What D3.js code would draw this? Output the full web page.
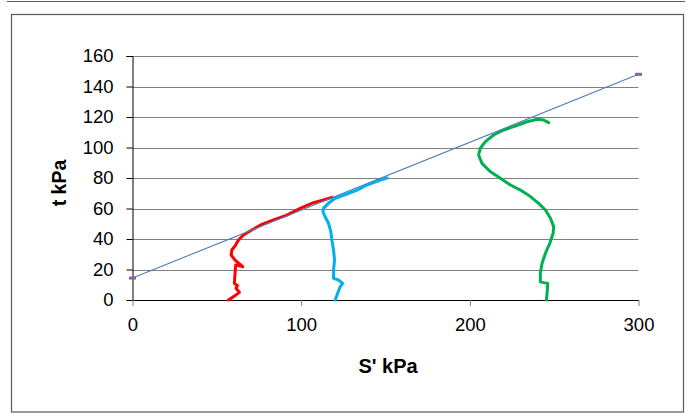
<!DOCTYPE html>
<html>
<head>
<meta charset="utf-8">
<script src="https://cdn.jsdelivr.net/npm/d3@7"></script>
<style>
  html, body { margin: 0; padding: 0; background: #fff; }
  svg { display: block; font-family: "Liberation Sans", Arial, sans-serif; }
</style>
</head>
<body>
<svg id="chart" width="691" height="416"></svg>
<script>
// ---- data ----
const xTicks = [0, 100, 200, 300];
const yTicks = [0, 20, 40, 60, 80, 100, 120, 140, 160];
const xTitle = "S' kPa";
const yTitle = "t kPa";

// failure envelope (straight line) endpoints [s', t]
const envelopeS = [0, 300];
const envelopeT = [14.4, 148];

// red test path
const redS = [56.9, 59.8, 63.4, 61.4, 62.2, 60.4, 60.8, 61.2, 65.4, 60.8, 58.5, 58.9, 60.8, 62.8, 65.8, 70.7, 76.7, 83.6, 91.5, 99.4, 107.3, 113.2, 118.2];
const redT = [0, 2.2, 5, 7.7, 9.5, 10.9, 17.5, 23, 21.9, 26.2, 29.5, 32.8, 35.4, 39.3, 42.6, 45.9, 49.6, 52.5, 55.7, 60.1, 63.8, 65.6, 67.3];

// blue test path
const blueS = [120.2, 121.6, 123.1, 124.7, 122.1, 119.2, 119.2, 119.8, 119.2, 118.2, 117.6, 116.2, 114.2, 112.9, 113.2, 116.2, 120.2, 127.1, 133.1, 139.0, 146.9, 151.0];
const blueT = [0, 4.4, 8.7, 10.9, 13.1, 14.2, 19.7, 26.2, 32.8, 39.3, 44.8, 50.3, 54.6, 57.9, 60.1, 63.4, 66.7, 69.5, 72.1, 75.4, 78.7, 80.0];

// green test path
const greenS = [245.4, 245.8, 246.2, 243.8, 241.8, 241.8, 242.8, 244.8, 247.4, 249.4, 249.7, 247.8, 244.8, 240.8, 235.9, 230.0, 224.1, 218.1, 212.2, 207.2, 205.2, 206.2, 209.2, 214.1, 220.1, 227.0, 233.9, 239.9, 243.8, 246.8];
const greenT = [0, 4.4, 10.9, 11.4, 12, 17.5, 24, 30.6, 37.2, 43.7, 48.1, 53.6, 59, 63.4, 67.8, 72.1, 75.4, 79.8, 84.1, 89.6, 95.1, 99.5, 103.8, 108.2, 111.5, 114.1, 116.9, 118.5, 118, 116.3];

const series = [
  { s: redS, t: redT, color: "#ff0000" },
  { s: blueS, t: blueT, color: "#00b0f0" },
  { s: greenS, t: greenT, color: "#00b050" }
];

// ---- layout ----
const svg = d3.select("#chart");
const x = d3.scaleLinear().domain([0, 300]).range([132.5, 638.5]);
const y = d3.scaleLinear().domain([0, 160]).range([300, 56]);

// outer frames
svg.append("line").attr("x1", 7).attr("x2", 685).attr("y1", 1.5).attr("y2", 1.5)
  .attr("stroke", "#5a5a5a").attr("stroke-width", 1.2);
svg.append("rect").attr("x", 11.5).attr("y", 14.5).attr("width", 672).attr("height", 397.5)
  .attr("fill", "none").attr("stroke", "#5a5a5a").attr("stroke-width", 1.2);

// gridlines
svg.append("g").selectAll("line").data(yTicks.filter(d => d > 0)).join("line")
  .attr("x1", x(0)).attr("x2", x(300))
  .attr("y1", d => Math.round(y(d)) + 0.5).attr("y2", d => Math.round(y(d)) + 0.5)
  .attr("stroke", "#808080").attr("stroke-width", 1);

// y axis
const yAxis = svg.append("g").attr("transform", `translate(${x(0)},0)`)
  .call(d3.axisLeft(y).tickValues(yTicks).tickSize(6).tickPadding(13));
yAxis.select(".domain").attr("stroke", "#000");
yAxis.selectAll(".tick line").attr("stroke", "#000");
yAxis.selectAll(".tick text").attr("font-size", 18.5).attr("fill", "#000")
  .attr("font-family", "Liberation Sans, Arial, sans-serif");

// x axis
const xAxis = svg.append("g").attr("transform", `translate(0,${y(0)})`)
  .call(d3.axisBottom(x).tickValues(xTicks).tickSize(6).tickPadding(12).tickSizeOuter(0));
xAxis.select(".domain").attr("stroke", "#000");
xAxis.selectAll(".tick line").attr("stroke", "#808080");
xAxis.selectAll(".tick text").attr("font-size", 18.5).attr("fill", "#000")
  .attr("font-family", "Liberation Sans, Arial, sans-serif");

// axis titles
svg.append("text").attr("x", 388).attr("y", 373).attr("text-anchor", "middle")
  .attr("font-size", 20).attr("font-weight", "bold").text(xTitle);
svg.append("text").attr("transform", "translate(66,183) rotate(-90)").attr("text-anchor", "middle")
  .attr("font-size", 19.5).attr("font-weight", "bold").text(yTitle);

// curves
const line = d3.line().x(d => x(d[0])).y(d => y(d[1]));
series.forEach(sr => {
  const pts = sr.s.map((v, i) => [v, sr.t[i]]);
  svg.append("path").datum(pts).attr("d", line)
    .attr("fill", "none").attr("stroke", sr.color).attr("stroke-width", 3)
    .attr("stroke-linejoin", "round").attr("stroke-linecap", "round");
});

// envelope line
const env = envelopeS.map((v, i) => [v, envelopeT[i]]);
svg.append("path").datum(env).attr("d", line)
  .attr("fill", "none").attr("stroke", "#4a7ebb").attr("stroke-width", 1.1);
svg.append("g").selectAll("rect").data(env).join("rect")
  .attr("x", d => x(d[0]) - 3.5).attr("y", d => y(d[1]) - 1.5)
  .attr("width", 7).attr("height", 3).attr("fill", "#8064a2");
</script>
</body>
</html>
